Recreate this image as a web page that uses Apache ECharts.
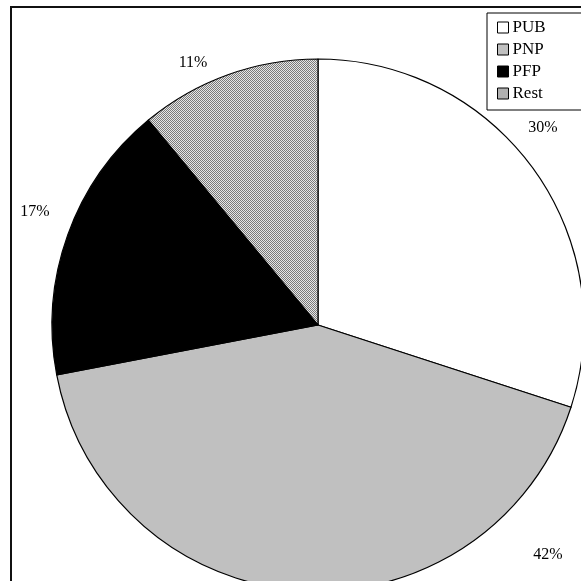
<!DOCTYPE html>
<html>
<head>
<meta charset="utf-8">
<script src="https://cdn.jsdelivr.net/npm/echarts@6/dist/echarts.min.js"></script>
<style>
  html, body { margin: 0; padding: 0; background: #fff; }
  #container { width: 581px; height: 581px; }
</style>
</head>
<body>
<div id="container"></div>
<script>
var categories = ['PUB', 'PNP', 'PFP', 'Rest'];
var shares = [30, 42, 17, 11];
var labelPos = [[543, 128], [548, 555], [35, 212], [193, 63]];

// fine hatch for "Rest"
function hatch() {
    var c = document.createElement('canvas');
    c.width = 2; c.height = 2;
    var ctx = c.getContext('2d');
    ctx.fillStyle = '#e6e6e6';
    ctx.fillRect(0, 0, 2, 2);
    ctx.fillStyle = '#7a7a7a';
    ctx.fillRect(0, 0, 1, 1);
    ctx.fillRect(1, 1, 1, 1);
    return c;
}

var fills = ['#ffffff', '#c0c0c0', '#000000', { image: hatch(), repeat: 'repeat' }];

var myChart = echarts.init(document.getElementById('container'));

var data = categories.map(function (name, i) {
    return { name: name, value: shares[i], itemStyle: { color: fills[i] } };
});

myChart.setOption({
    animation: false,
    textStyle: { fontFamily: 'Liberation Serif' },
    graphic: [{
        type: 'rect',
        shape: { x: 11, y: 7, width: 640, height: 640 },
        style: { fill: 'none', stroke: '#111', lineWidth: 2 },
        z: 10
    }],
    legend: {
        orient: 'vertical',
        left: 487,
        top: 13,
        padding: [6, 40, 8, 10],
        itemWidth: 11,
        itemHeight: 11,
        itemGap: 5,
        icon: 'rect',
        borderColor: '#000',
        borderWidth: 1,
        backgroundColor: '#fff',
        itemStyle: { borderColor: '#000', borderWidth: 1 },
        textStyle: { fontFamily: 'Liberation Serif', fontSize: 17, color: '#000', padding: [0, 0, 0, -1] },
        data: categories
    },
    series: [{
        type: 'pie',
        center: [318, 325],
        radius: 266,
        startAngle: 90,
        clockwise: true,
        silent: true,
        itemStyle: { borderColor: '#000', borderWidth: 1.2 },
        label: {
            show: true,
            position: 'outside',
            formatter: '{c}%',
            fontFamily: 'Liberation Serif',
            fontSize: 16,
            color: '#000',
            overflow: 'none',
            width: 60
        },
        labelLine: { show: false },
        labelLayout: function (params) {
            var p = labelPos[params.dataIndex];
            return { x: p[0], y: p[1], align: 'center', verticalAlign: 'middle', hideOverlap: false, moveOverlap: null };
        },
        data: data
    }]
});
</script>
</body>
</html>
